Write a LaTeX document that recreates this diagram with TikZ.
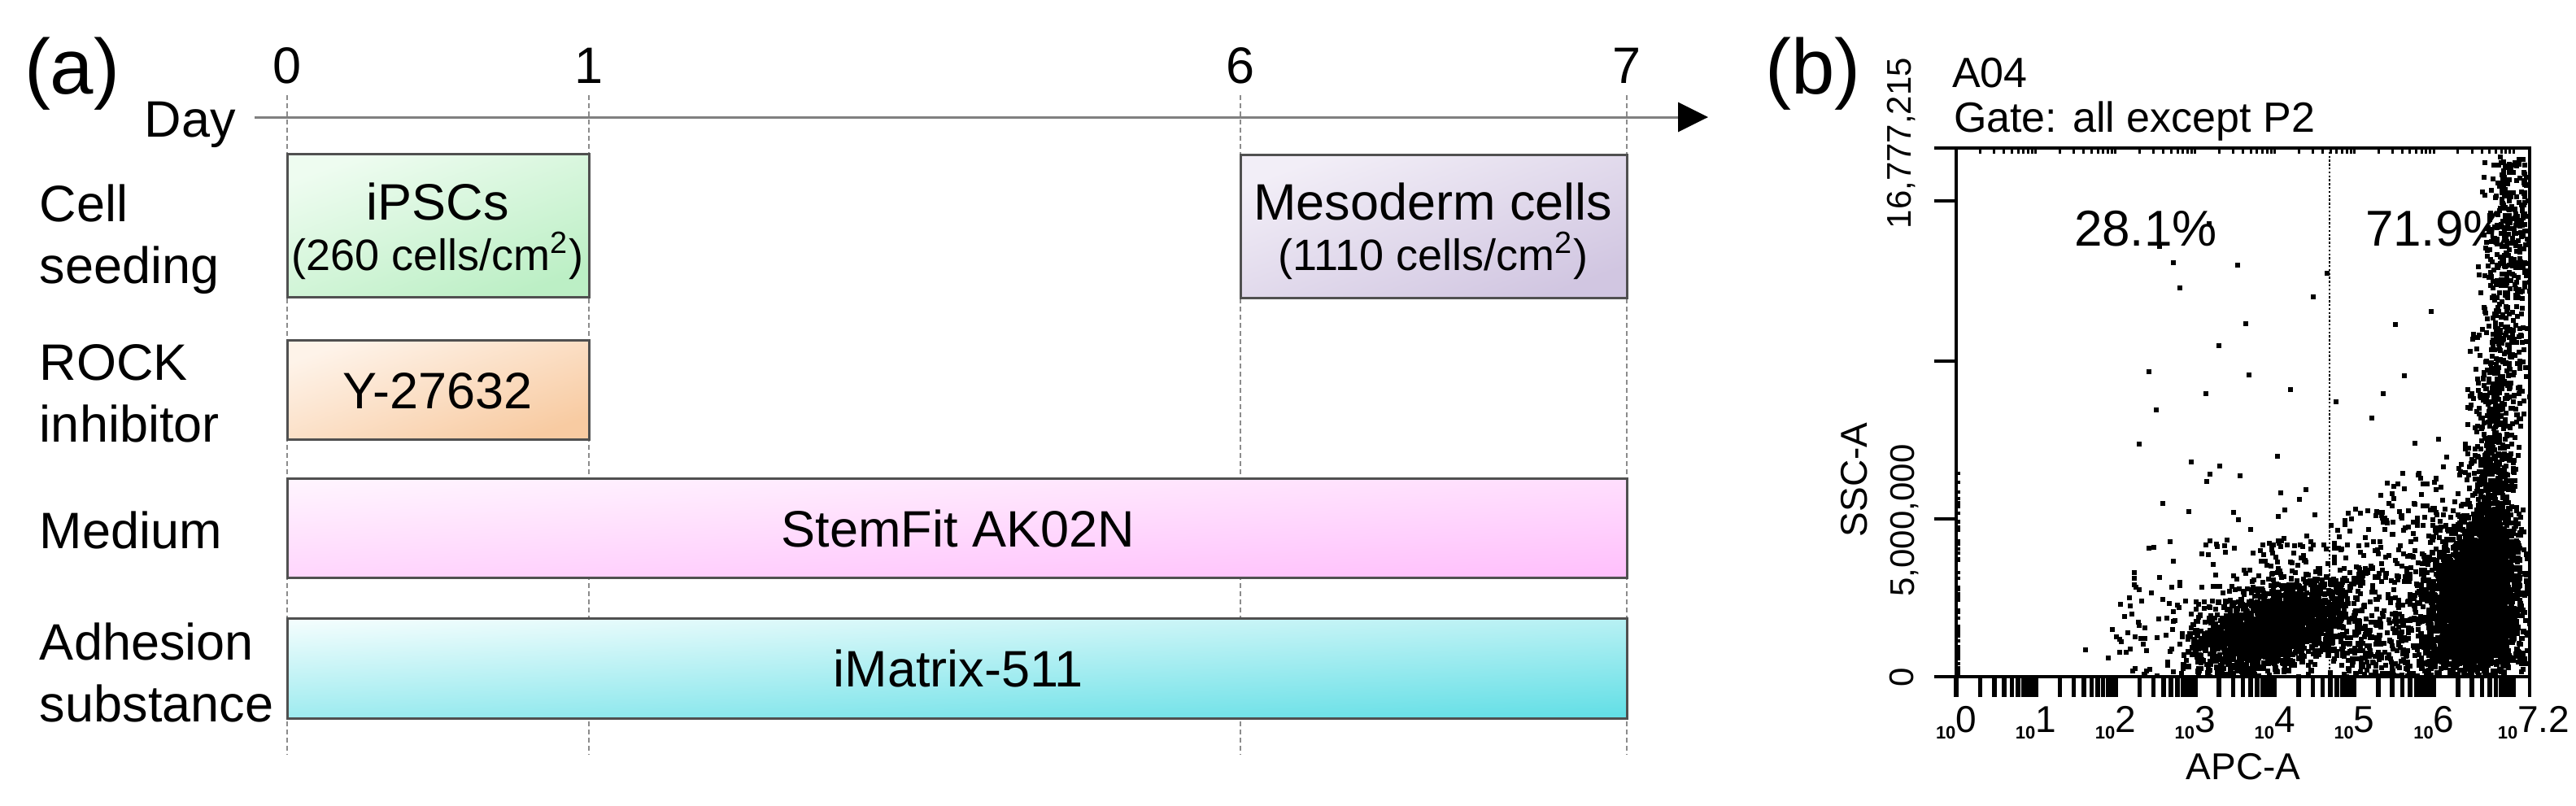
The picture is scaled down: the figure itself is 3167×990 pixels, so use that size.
\documentclass[tikz,border=0pt]{standalone}
\usepackage{fontspec}
\setmainfont{Liberation Sans}
\usetikzlibrary{arrows.meta}
\definecolor{axisgray}{HTML}{808080}
\definecolor{daygray}{HTML}{8C8C8C}
\definecolor{boxgray}{HTML}{505050}
\definecolor{gA}{HTML}{EEFCF0}\definecolor{gB}{HTML}{BCEFC5}
\definecolor{oA}{HTML}{FEF3E9}\definecolor{oB}{HTML}{F8CBA2}
\definecolor{pA}{HTML}{FFF4FE}\definecolor{pB}{HTML}{FFC0FC}
\definecolor{cA}{HTML}{F2FDFD}\definecolor{cB}{HTML}{64DFE6}
\definecolor{vA}{HTML}{F2EEF7}\definecolor{vB}{HTML}{D1C6E1}
\begin{document}
\begin{tikzpicture}[x=0.25pt,y=-0.25pt,
  lbl/.style={font=\fontsize{15.75}{19}\selectfont, inner sep=0pt, outer sep=0pt},
  sublbl/.style={font=\fontsize{13.5}{16}\selectfont, inner sep=0pt, outer sep=0pt},
  panel/.style={font=\fontsize{24}{28}\selectfont, inner sep=0pt, outer sep=0pt},
  plt/.style={font=\fontsize{13}{15}\selectfont, inner sep=0pt, outer sep=0pt},
  pct/.style={font=\fontsize{15.5}{18}\selectfont, inner sep=0pt, outer sep=0pt},
  axl/.style={font=\fontsize{11.5}{13}\selectfont, inner sep=0pt, outer sep=0pt},
  tkl/.style={font=\fontsize{10.5}{12}\selectfont, inner sep=0pt, outer sep=0pt},
  bar/.style={draw=boxgray, line width=0.75pt},
  dayline/.style={draw=daygray, line width=0.35pt, dash pattern=on 1.5pt off 1pt},
  dayaxis/.style={draw=axisgray, line width=0.75pt, -{Triangle[length=9.25pt,width=9pt,color=black]}},
  frame/.style={draw=black, line width=1pt},
  xtk/.style={draw=black, line width=1.4pt},
  toptk/.style={draw=black, line width=0.75pt},
  gateline/.style={draw=black, line width=0.5pt, dash pattern=on 0.6pt off 0.6pt},
  dot/.style={fill=black}
]
\useasboundingbox (0,0) rectangle (3167,990);

% ---------------- panel (a) ----------------
\node[panel, anchor=base west] (pa) at (30,115) {(a)};

% day lines
\foreach \n/\x in {0/353,1/724,6/1525,7/2000}{
  \coordinate (dt\n) at (\x,117);
  \coordinate (db\n) at (\x,928);
  \draw[dayline] (dt\n) -- (db\n);
  \node[lbl, anchor=base] (dl\n) at (\x,102) {\n};
}
\coordinate (axstart) at (313,144);
\coordinate (axend) at (2100,144);
\draw[dayaxis] (axstart) -- (axend);
\node[lbl, anchor=base east] (day) at (290,168) {Day};

% bars
\draw[bar, top color=gA, bottom color=gB, shading angle=20] (353,189) rectangle (724,365);
\draw[bar, top color=vA, bottom color=vB, shading angle=20] (1525,190) rectangle (2000,366);
\draw[bar, top color=oA, bottom color=oB, shading angle=20] (353,418) rectangle (724,540);
\draw[bar, top color=pA, bottom color=pB, shading angle=3] (353,588) rectangle (2000,710);
\draw[bar, top color=cA, bottom color=cB, shading angle=3] (353,760) rectangle (2000,883);

% bar texts
\node[lbl, anchor=base] (tips) at (538,270) {iPSCs};
\node[sublbl, anchor=base] (tipsd) at (538,332) {(260 cells/cm\textsuperscript{2})};
\node[lbl, anchor=base] (tmes) at (1762,270) {Mesoderm cells};
\node[sublbl, anchor=base] (tmesd) at (1762,332) {(1110 cells/cm\textsuperscript{2})};
\node[lbl, anchor=base] (ty) at (538,502) {Y-27632};
\node[lbl, anchor=base] (tstem) at (1178,672) {StemFit AK02N};
\node[lbl, anchor=base] (timat) at (1178,844) {iMatrix-511};

% row labels
\node[lbl, anchor=west, align=left] (rcell) at (49,294) {Cell\\seeding};
\node[lbl, anchor=west, align=left] (rrock) at (49,484) {ROCK\\inhibitor};
\node[lbl, anchor=base west] (rmed) at (49,674) {Medium};
\node[lbl, anchor=west, align=left] (radh) at (49,827) {Adhesion\\substance};

% ---------------- panel (b) ----------------
\node[panel, anchor=base west] (pb) at (2170,115) {(b)};
\node[plt, anchor=base west] (a04) at (2400,107) {A04};
\node[plt, anchor=base west] (gate) at (2402,162) {Gate: all except P2};

% scatter
\pgfmathsetseed{4242}
\begin{scope}
\clip (2407,184) rectangle (3108,830);
% left core
\foreach \i in {1,...,1500}{
  \pgfmathsetmacro\u{rand+rand+rand}
  \pgfmathsetmacro\v{rand+rand+rand}
  \pgfmathsetmacro\px{2790+46*\u}
  \pgfmathsetmacro\py{772-14*\u+24*\v}
  \fill[dot] (\px,\py) rectangle ++(6.5,6.5);
}
% left halo
\foreach \i in {1,...,600}{
  \pgfmathsetmacro\u{rand+rand+rand}
  \pgfmathsetmacro\v{rand+rand+rand}
  \pgfmathsetmacro\px{2790+80*\u}
  \pgfmathsetmacro\py{748-22*\u+52*\v}
  \fill[dot] (\px,\py) rectangle ++(6,6);
}
% right core
\foreach \i in {1,...,2400}{
  \pgfmathsetmacro\u{rand+rand+rand}
  \pgfmathsetmacro\v{rand+rand+rand}
  \pgfmathsetmacro\px{3040+27*\u}
  \pgfmathsetmacro\py{742+42*\v}
  \fill[dot] (\px,\py) rectangle ++(6.5,6.5);
}
% right streak
\foreach \i in {1,...,1300}{
  \pgfmathsetmacro\w{(rand+1)/2}
  \pgfmathsetmacro\u{rand+rand+rand}
  \pgfmathsetmacro\py{680-490*\w*\w}
  \pgfmathsetmacro\px{3056+32*(680-\py)/490+15*\u}
  \fill[dot] (\px,\py) rectangle ++(6,6);
}
% right halo
\foreach \i in {1,...,600}{
  \pgfmathsetmacro\u{rand+rand+rand}
  \pgfmathsetmacro\v{rand+rand+rand}
  \pgfmathsetmacro\px{3010+50*\u}
  \pgfmathsetmacro\py{730+72*\v}
  \fill[dot] (\px,\py) rectangle ++(6,6);
}
% bridge between clusters
\foreach \i in {1,...,220}{
  \pgfmathsetmacro\px{2935+60*rand}
  \pgfmathsetmacro\py{792+38*rand}
  \fill[dot] (\px,\py) rectangle ++(6,6);
}
% sparse
\foreach \i in {1,...,90}{
  \pgfmathsetmacro\w{(rand+1)/2}
  \pgfmathsetmacro\px{2830+230*rand}
  \pgfmathsetmacro\py{830-560*\w*\w}
  \fill[dot] (\px,\py) rectangle ++(6,6);
}
% pile on the left axis
\foreach \i in {1,...,60}{
  \pgfmathsetmacro\w{(rand+1)/2}
  \pgfmathsetmacro\py{830-260*\w*\w}
  \fill[dot] (2406,\py) rectangle ++(4,4);
}
\end{scope}

% gate line
\coordinate (gt) at (2864,182);
\coordinate (gb) at (2864,842);
\draw[gateline] (gt) -- (gb);

% frame and axes
\draw[frame] (2378,182) -- (3110,182) -- (3110,857);
\draw[frame] (2405,182) -- (2405,857);
\draw[frame] (2378,832) -- (3110,832);
\foreach \ty in {247,444,638}{ \draw[frame] (2378,\ty) -- (2405,\ty); }
\foreach \d in {0,...,7}{
  \foreach \k in {1,...,9}{
    \pgfmathsetmacro\tx{2405+97.9*(\d+ln(\k)/ln(10))}
    \ifdim\tx pt<3108pt
      \draw[xtk] (\tx,832) -- (\tx,857);
      \draw[toptk] (\tx,182) -- (\tx,189);
    \fi
  }
}

% axis labels
\foreach \d in {0,...,6}{
  \node[anchor=base, inner sep=0pt] (xl\d) at ({2405+97.9*\d},908)
    {\fontsize{5.5}{6}\selectfont\bfseries 10\raisebox{2pt}{\fontsize{11.5}{12}\selectfont\mdseries \d}};
}
\node[anchor=base west, inner sep=0pt] (xl72) at (3070,908)
  {\fontsize{5.5}{6}\selectfont\bfseries 10\raisebox{2pt}{\fontsize{11.5}{12}\selectfont\mdseries 7.2}};
\node[axl] (apc) at (2758,943) {APC-A};
\node[axl, rotate=90] (ssc) at (2280,590) {SSC-A};
\node[tkl, rotate=90] (y0) at (2338,833) {0};
\node[tkl, rotate=90] (y5) at (2341,640) {5,000,000};
\node[tkl, rotate=90] (ytop) at (2337,176) {16,777,215};

% percentages
\node[pct, anchor=base west] (p28) at (2550,302) {28.1\%};
\node[pct, anchor=base west] (p72) at (2908,302) {71.9\%};
\end{tikzpicture}
\end{document}
